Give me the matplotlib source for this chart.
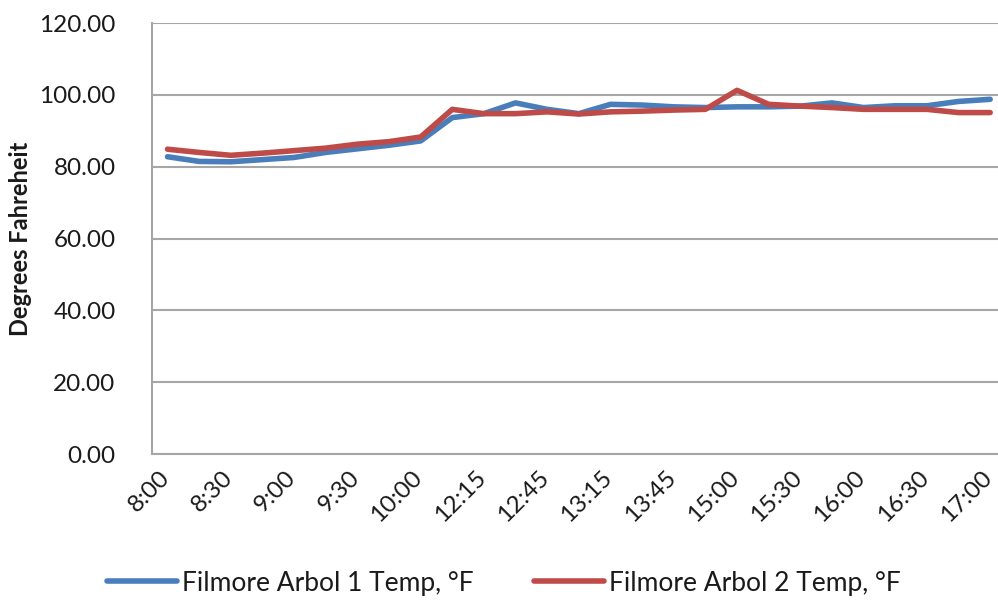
import numpy as np
import matplotlib
matplotlib.use("Agg")
import matplotlib.pyplot as plt
import matplotlib.ticker as ticker
import matplotlib.transforms as mtransforms

plt.rcParams['font.family'] = ['Lato', 'DejaVu Sans']

# time of reading (only every second one is labelled on the chart)
times = ['8:00', '8:15', '8:30', '8:45', '9:00', '9:15', '9:30', '9:45', '10:00',
         '12:00', '12:15', '12:30', '12:45', '13:00', '13:15', '13:30', '13:45',
         '14:30', '15:00', '15:15', '15:30', '15:45', '16:00', '16:15', '16:30',
         '16:45', '17:00']
arbol1 = [82.8, 81.5, 81.4, 82.0, 82.6, 84.0, 85.0, 86.0, 87.2,
          93.7, 94.8, 97.8, 96.0, 94.8, 97.4, 97.2, 96.7,
          96.5, 96.7, 96.7, 96.9, 97.8, 96.5, 97.0, 97.0,
          98.2, 98.8]
arbol2 = [84.9, 84.0, 83.2, 83.8, 84.5, 85.2, 86.3, 87.0, 88.3,
          96.0, 94.8, 94.8, 95.3, 94.7, 95.3, 95.5, 95.8,
          96.0, 101.3, 97.4, 96.9, 96.5, 96.0, 96.0, 96.0,
          95.1, 95.1]
labels1 = 'Filmore Arbol 1 Temp, °F'
labels2 = 'Filmore Arbol 2 Temp, °F'

fig = plt.figure(figsize=(9.98, 6.10), dpi=100)
ax_w = 1.008 - 0.152
ax = fig.add_axes([0.152, 0.2557, ax_w, 0.962 - 0.2557])

x = np.arange(len(times))
ax.plot(x, arbol1, color='#4A7EBB', lw=4, label=labels1, solid_capstyle='round')
ax.plot(x, arbol2, color='#BE4B48', lw=4, label=labels2, solid_capstyle='round')

ax.set_xlim(-0.5, len(times) - 0.5)
ax.set_ylim(0, 120)
ax.yaxis.set_major_locator(ticker.MultipleLocator(20))
ax.yaxis.set_major_formatter(ticker.FormatStrFormatter('%.2f'))
ax.grid(axis='y', color='#a6a6a6', lw=1.5)
ax.set_axisbelow(True)

ax.set_xticks(x[::2])
ax.set_xticklabels(times[::2], rotation=45, ha='right', rotation_mode='anchor')
ax.tick_params(axis='both', length=0, colors='#1a1a1a')
ax.tick_params(axis='y', pad=26, labelsize=17.5)
ax.tick_params(axis='x', pad=9, labelsize=17.5)
shift = mtransforms.ScaledTranslation(-9 / 100, 0, fig.dpi_scale_trans)
for lab in ax.get_xticklabels():
    lab.set_transform(lab.get_transform() + shift)

for s in ['top', 'right']:
    ax.spines[s].set_visible(False)
for s in ['left', 'bottom']:
    ax.spines[s].set_color('#a6a6a6')
    ax.spines[s].set_linewidth(1.5)

ax.set_ylabel('Degrees Fahreheit', fontsize=17, fontweight='bold',
              color='#1a1a1a', va='center')
ax.yaxis.set_label_coords((21 / 998 - 0.152) / ax_w, 0.5)

fig.legend(loc='center', bbox_to_anchor=(0.505, 0.044), ncol=2, frameon=False,
           fontsize=19, handlelength=2.65, handletextpad=0.2, columnspacing=2.3,
           labelcolor='#1a1a1a')

fig.savefig('out.png', dpi=100)
